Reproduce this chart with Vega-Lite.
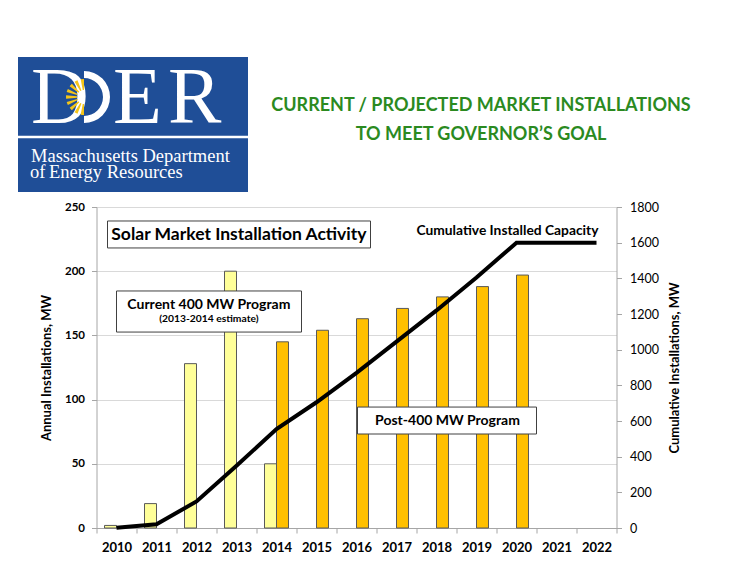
{
  "$schema": "https://vega.github.io/schema/vega-lite/v6.json",
  "padding": {"left": 16, "top": 57, "right": 0, "bottom": 5},
  "background": "white",
  "config": {
    "font": "Lato",
    "view": {"stroke": null},
    "axis": {"labelColor": "black", "titleColor": "black"}
  },
  "datasets": {
    "bars": [
      {"year": 2010, "program": "Current", "mw": 2},
      {"year": 2011, "program": "Current", "mw": 19},
      {"year": 2012, "program": "Current", "mw": 128},
      {"year": 2013, "program": "Current", "mw": 200},
      {"year": 2014, "program": "Current", "mw": 50},
      {"year": 2014, "program": "Post", "mw": 145},
      {"year": 2015, "program": "Post", "mw": 154},
      {"year": 2016, "program": "Post", "mw": 163},
      {"year": 2017, "program": "Post", "mw": 171},
      {"year": 2018, "program": "Post", "mw": 180},
      {"year": 2019, "program": "Post", "mw": 188},
      {"year": 2020, "program": "Post", "mw": 197}
    ],
    "cumulative": [
      {"year": 2010, "total": 2},
      {"year": 2011, "total": 21},
      {"year": 2012, "total": 149},
      {"year": 2013, "total": 349},
      {"year": 2014, "total": 555},
      {"year": 2015, "total": 705},
      {"year": 2016, "total": 870},
      {"year": 2017, "total": 1045},
      {"year": 2018, "total": 1220},
      {"year": 2019, "total": 1405},
      {"year": 2020, "total": 1600},
      {"year": 2021, "total": 1600},
      {"year": 2022, "total": 1600}
    ],
    "boxes": [
      {"x1": 2009.775, "x2": 2016.35, "y1": 239.1, "y2": 218.1},
      {"x1": 2010.0, "x2": 2014.625, "y1": 184.6, "y2": 152.6},
      {"x1": 2016.025, "x2": 2020.5, "y1": 94.2, "y2": 73.2}
    ],
    "notes": [
      {"kind": "head", "x": 2013.06, "y": 228.2, "label": "Solar Market Installation Activity"},
      {"kind": "prog", "x": 2012.31, "y": 173.4, "label": "Current 400 MW Program"},
      {"kind": "sub", "x": 2012.31, "y": 163.0, "label": "(2013-2014 estimate)"},
      {"kind": "prog", "x": 2018.275, "y": 83.0, "label": "Post-400 MW Program"},
      {"kind": "cum", "x": 2019.775, "y": 231.3, "label": "Cumulative Installed Capacity"}
    ],
    "logoRule": [{"x1": 0, "x2": 230, "y": 80}],
    "logoBig": [
      {"x": 13, "y": 66, "t": "D"},
      {"x": 95, "y": 66, "t": "E"},
      {"x": 150, "y": 66, "t": "R"}
    ],
    "logoO": [{"x": 66, "y": 40}],
    "rays": [
      {"seg": 1, "v": 1, "kind": "ray"}, {"seg": 2, "v": 1, "kind": "gap"},
      {"seg": 3, "v": 1, "kind": "ray"}, {"seg": 4, "v": 1, "kind": "gap"},
      {"seg": 5, "v": 1, "kind": "ray"}, {"seg": 6, "v": 1, "kind": "gap"},
      {"seg": 7, "v": 1, "kind": "ray"}, {"seg": 8, "v": 1, "kind": "gap"},
      {"seg": 9, "v": 1, "kind": "ray"}, {"seg": 10, "v": 1, "kind": "gap"},
      {"seg": 11, "v": 1, "kind": "ray"}, {"seg": 12, "v": 1, "kind": "gap"},
      {"seg": 13, "v": 1, "kind": "ray"}, {"seg": 14, "v": 1, "kind": "gap"},
      {"seg": 15, "v": 1, "kind": "ray"}, {"seg": 16, "v": 1, "kind": "gap"},
      {"seg": 17, "v": 1, "kind": "ray"}
    ],
    "logoSmall": [
      {"x": 13, "y": 105, "t": "Massachusetts Department", "style": "normal"},
      {"x": 12, "y": 121, "t": "of", "style": "italic"},
      {"x": 31, "y": 121, "t": "Energy Resources", "style": "normal"}
    ],
    "heading": [
      {"x": 231, "y": 49, "t": "CURRENT / PROJECTED MARKET INSTALLATIONS"},
      {"x": 231, "y": 78, "t": "TO MEET GOVERNOR’S GOAL"}
    ]
  },
  "spacing": 9,
  "center": true,
  "vconcat": [
    {
      "spacing": 0,
      "hconcat": [
        {
          "width": 230,
          "height": 135,
          "view": {"fill": "#1f4e97", "stroke": null},
          "layer": [
            {
              "data": {"name": "logoRule"},
              "mark": {"type": "rule", "stroke": "white", "strokeWidth": 2.5},
              "encoding": {
                "x": {"field": "x1", "type": "quantitative", "scale": {"domain": [0, 230], "nice": false, "zero": false}, "axis": null},
                "x2": {"field": "x2"},
                "y": {"field": "y", "type": "quantitative", "scale": {"domain": [0, 135], "reverse": true, "nice": false, "zero": false}, "axis": null}
              }
            },
            {
              "data": {"name": "logoBig"},
              "mark": {"type": "text", "font": "Liberation Serif", "fontSize": 80, "fill": "white", "align": "left", "baseline": "alphabetic"},
              "encoding": {
                "x": {"field": "x", "type": "quantitative"},
                "y": {"field": "y", "type": "quantitative"},
                "text": {"field": "t"}
              }
            },
            {
              "data": {"name": "logoO"},
              "mark": {"type": "arc", "theta": 0, "theta2": 3.1416, "innerRadius": 19, "outerRadius": 26, "fill": "white"},
              "encoding": {
                "x": {"field": "x", "type": "quantitative"},
                "y": {"field": "y", "type": "quantitative"}
              }
            },
            {
              "data": {"name": "rays"},
              "mark": {"type": "arc", "innerRadius": 7, "outerRadius": 18, "fill": "#f5c518"},
              "encoding": {
                "x": {"datum": 66, "type": "quantitative"},
                "y": {"datum": 40, "type": "quantitative"},
                "theta": {"field": "v", "type": "quantitative", "stack": true, "scale": {"range": [3.1416, 6.2832]}},
                "order": {"field": "seg", "type": "quantitative"},
                "opacity": {"field": "kind", "type": "nominal", "scale": {"domain": ["ray", "gap"], "range": [1, 0]}, "legend": null}
              }
            },
            {
              "data": {"name": "logoSmall"},
              "mark": {"type": "text", "font": "Liberation Serif", "fontSize": 18.5, "fill": "white", "align": "left", "baseline": "alphabetic"},
              "encoding": {
                "x": {"field": "x", "type": "quantitative"},
                "y": {"field": "y", "type": "quantitative"},
                "text": {"field": "t"},
                "fontStyle": {"field": "style", "type": "nominal", "scale": {"domain": ["normal", "italic"], "range": ["normal", "italic"]}, "legend": null}
              }
            }
          ]
        },
        {
          "width": 510,
          "height": 135,
          "data": {"name": "heading"},
          "mark": {"type": "text", "font": "Lato", "fontWeight": "bold", "fontSize": 18, "fill": "#2b8a1f", "baseline": "middle", "align": "center"},
          "encoding": {
            "x": {"field": "x", "type": "quantitative", "scale": {"domain": [0, 510], "nice": false, "zero": false}, "axis": null},
            "y": {"field": "y", "type": "quantitative", "scale": {"domain": [0, 135], "reverse": true, "nice": false, "zero": false}, "axis": null},
            "text": {"field": "t"}
          }
        }
      ]
    },
    {
      "width": 520,
      "height": 321,
      "layer": [
        {
          "data": {"name": "bars"},
          "mark": {"type": "bar", "stroke": "#595959", "strokeWidth": 1},
          "encoding": {
            "x": {
              "field": "year", "type": "ordinal",
              "scale": {"domain": [2010, 2011, 2012, 2013, 2014, 2015, 2016, 2017, 2018, 2019, 2020, 2021, 2022], "paddingInner": 0, "paddingOuter": 0},
              "axis": {
                "orient": "bottom", "title": null, "labelAngle": 0, "tickBand": "extent",
                "labelFontSize": 13, "labelFontWeight": "bold", "labelPadding": 8,
                "domainColor": "#a6a6a6", "tickColor": "#a6a6a6", "tickSize": 5, "grid": false
              }
            },
            "xOffset": {"field": "program", "type": "nominal", "scale": {"domain": ["Current", "Post"], "paddingInner": 0, "paddingOuter": 0.6667}},
            "y": {
              "field": "mw", "type": "quantitative",
              "scale": {"domain": [0, 250], "nice": false},
              "axis": {
                "orient": "left", "values": [0, 50, 100, 150, 200, 250],
                "title": "Annual Installations, MW", "titleFontSize": 13, "titleFontWeight": "bold", "titlePadding": 11,
                "labelFontSize": 11.5, "labelFontWeight": "bold", "labelPadding": 7,
                "grid": true, "gridColor": "#d9d9d9", "domainColor": "#a6a6a6", "tickColor": "#a6a6a6", "tickSize": 5
              }
            },
            "fill": {"field": "program", "type": "nominal", "scale": {"domain": ["Current", "Post"], "range": ["#ffff99", "#ffc000"]}, "legend": null}
          }
        },
        {
          "data": {"name": "cumulative"},
          "mark": {"type": "line", "stroke": "black", "strokeWidth": 4},
          "encoding": {
            "x": {
              "field": "year", "type": "ordinal",
              "scale": {"type": "point", "domain": [2010, 2011, 2012, 2013, 2014, 2015, 2016, 2017, 2018, 2019, 2020, 2021, 2022], "padding": 0.5},
              "axis": null
            },
            "y": {
              "field": "total", "type": "quantitative",
              "scale": {"domain": [0, 1800], "nice": false},
              "axis": {
                "orient": "right", "values": [0, 200, 400, 600, 800, 1000, 1200, 1400, 1600, 1800], "format": "d",
                "title": "Cumulative Installations, MW", "titleFontSize": 13, "titleFontWeight": "bold", "titleAngle": 270, "titleBaseline": "top", "titlePadding": 10,
                "labelFontSize": 12.5, "labelFontWeight": "normal", "labelPadding": 8,
                "grid": false, "domainColor": "#a6a6a6", "tickColor": "#a6a6a6", "tickSize": 5
              }
            }
          }
        },
        {
          "layer": [
            {
              "data": {"name": "boxes"},
              "mark": {"type": "rect", "fill": "white", "stroke": "#404040", "strokeWidth": 1},
              "encoding": {
                "x": {"field": "x1", "type": "quantitative", "scale": {"domain": [2009.5, 2022.5], "nice": false, "zero": false}, "axis": null},
                "x2": {"field": "x2"},
                "y": {"field": "y1", "type": "quantitative", "scale": {"domain": [0, 250], "nice": false, "zero": false}, "axis": null},
                "y2": {"field": "y2"}
              }
            },
            {
              "data": {"name": "notes"},
              "transform": [{"filter": "datum.kind === 'head'"}],
              "mark": {"type": "text", "font": "Lato", "fontWeight": "bold", "fontSize": 17.5, "fill": "black", "baseline": "middle", "align": "center"},
              "encoding": {
                "x": {"field": "x", "type": "quantitative"},
                "y": {"field": "y", "type": "quantitative"},
                "text": {"field": "label"}
              }
            },
            {
              "data": {"name": "notes"},
              "transform": [{"filter": "datum.kind === 'prog'"}],
              "mark": {"type": "text", "font": "Lato", "fontWeight": "bold", "fontSize": 14, "fill": "black", "baseline": "middle", "align": "center"},
              "encoding": {
                "x": {"field": "x", "type": "quantitative"},
                "y": {"field": "y", "type": "quantitative"},
                "text": {"field": "label"}
              }
            },
            {
              "data": {"name": "notes"},
              "transform": [{"filter": "datum.kind === 'sub'"}],
              "mark": {"type": "text", "font": "Lato", "fontWeight": "bold", "fontSize": 10.3, "fill": "black", "baseline": "middle", "align": "center"},
              "encoding": {
                "x": {"field": "x", "type": "quantitative"},
                "y": {"field": "y", "type": "quantitative"},
                "text": {"field": "label"}
              }
            },
            {
              "data": {"name": "notes"},
              "transform": [{"filter": "datum.kind === 'cum'"}],
              "mark": {"type": "text", "font": "Lato", "fontWeight": "bold", "fontSize": 13.8, "fill": "black", "baseline": "middle", "align": "center"},
              "encoding": {
                "x": {"field": "x", "type": "quantitative"},
                "y": {"field": "y", "type": "quantitative"},
                "text": {"field": "label"}
              }
            }
          ]
        }
      ],
      "resolve": {"scale": {"x": "independent", "y": "independent"}, "axis": {"x": "independent", "y": "independent"}}
    }
  ]
}
